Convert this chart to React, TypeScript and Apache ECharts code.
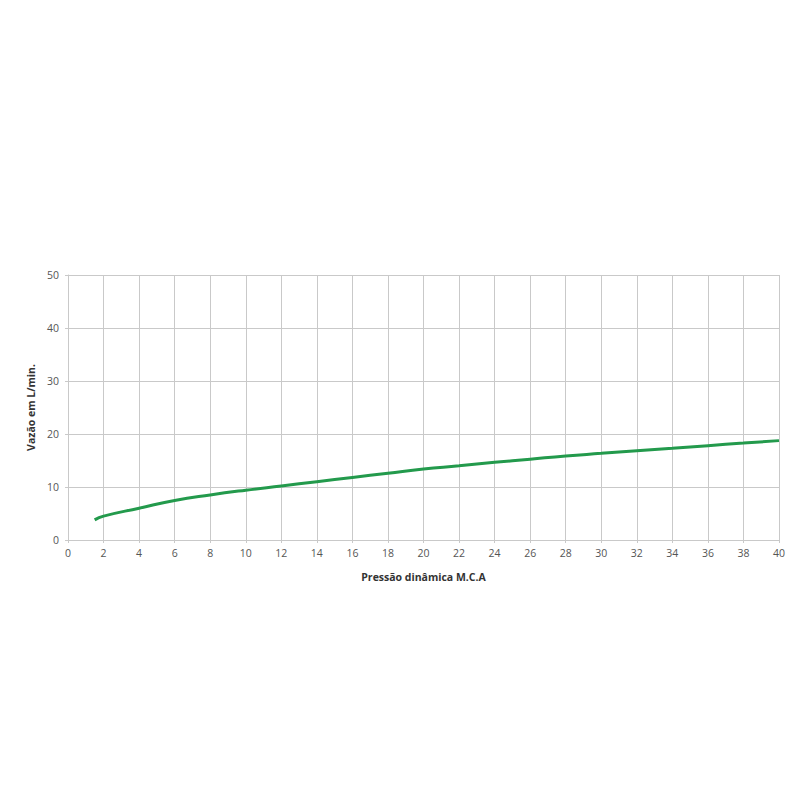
import React, { useEffect, useRef } from 'react';
import * as echarts from 'echarts';

// Pressão dinâmica (M.C.A) and vazão (L/min)
const pressure = [1.5, 2, 4, 6, 8, 10, 12, 14, 16, 18, 20, 22, 24, 26, 28, 30, 32, 34, 36, 38, 40];
const flow = [3.8, 4.5, 6.0, 7.45, 8.5, 9.4, 10.2, 11.0, 11.8, 12.6, 13.4, 14.0, 14.65, 15.25, 15.85, 16.35, 16.85, 17.3, 17.8, 18.3, 18.75];

const xTitle = 'Pressão dinâmica M.C.A';
const yTitle = 'Vazão em L/min.';

const App: React.FC = () => {
	const chartRef = useRef<HTMLDivElement>(null);

	useEffect(() => {
		if (!chartRef.current) return;
		const chart = echarts.init(chartRef.current, undefined, { renderer: 'svg' });

		const gridColor = '#c9c9c9';
		const labelColor = '#555';
		const font = '"Open Sans", "Noto Sans", sans-serif';

		const option: echarts.EChartsOption = {
			animation: false,
			backgroundColor: '#ffffff',
			// the div sits inside the body's 8px margin
			grid: {
				left: 60,
				right: 13,
				top: 267,
				bottom: 252,
				containLabel: false
			},
			xAxis: {
				type: 'value',
				min: 0,
				max: 40,
				interval: 2,
				name: xTitle,
				nameLocation: 'middle',
				nameGap: 31,
				nameTextStyle: {
					color: '#333',
					fontSize: 10.5,
					fontWeight: 'bold',
					fontFamily: font
				},
				axisLine: { show: true, lineStyle: { color: gridColor, width: 1 } },
				axisTick: { show: true, length: 3, lineStyle: { color: gridColor } },
				axisLabel: { color: labelColor, fontSize: 10.5, fontFamily: font, margin: 7 },
				splitLine: { show: true, lineStyle: { color: gridColor, width: 1 } }
			},
			yAxis: {
				type: 'value',
				min: 0,
				max: 50,
				interval: 10,
				name: yTitle,
				nameLocation: 'middle',
				nameGap: 30,
				nameRotate: 90,
				nameTextStyle: {
					color: '#333',
					fontSize: 10.5,
					fontWeight: 'bold',
					fontFamily: font
				},
				axisLine: { show: true, lineStyle: { color: gridColor, width: 1 } },
				axisTick: { show: true, length: 3, lineStyle: { color: gridColor } },
				axisLabel: { color: labelColor, fontSize: 10.5, fontFamily: font, margin: 9 },
				splitLine: { show: true, lineStyle: { color: gridColor, width: 1 } }
			},
			series: [
				{
					type: 'line',
					data: pressure.map((p, i) => [p, flow[i]]),
					smooth: true,
					showSymbol: false,
					lineStyle: { color: '#239a4c', width: 3 },
					itemStyle: { color: '#239a4c' }
				}
			]
		};

		chart.setOption(option);

		return () => {
			chart.dispose();
		};
	}, []);

	return <div ref={chartRef} style={{ width: '784px', height: '784px' }} />;
};

export default App;
